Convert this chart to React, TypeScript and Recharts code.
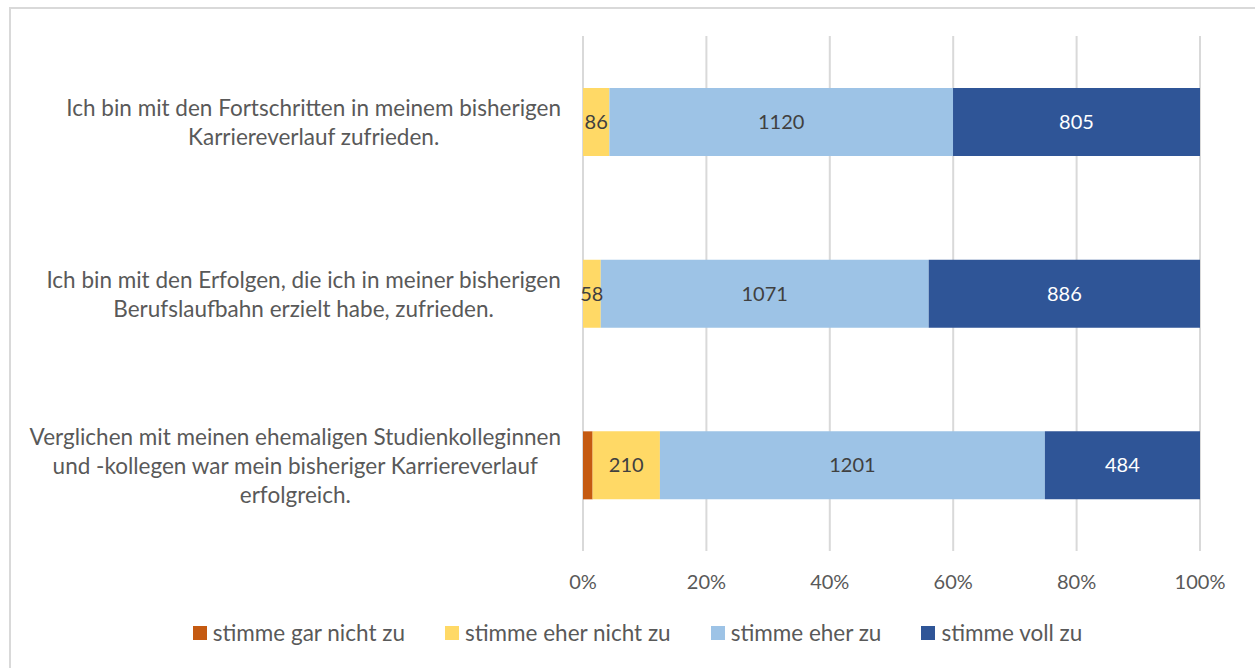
import React from 'react';
import { BarChart, Bar, XAxis, YAxis, CartesianGrid, LabelList } from 'recharts';

const categories = [
  'Ich bin mit den Fortschritten in meinem bisherigen\nKarriereverlauf zufrieden.',
  'Ich bin mit den Erfolgen, die ich in meiner bisherigen\nBerufslaufbahn erzielt habe, zufrieden.',
  'Verglichen mit meinen ehemaligen Studienkolleginnen\nund -kollegen war mein bisheriger Karriereverlauf\nerfolgreich.',
];

const garNicht = [0, 0, 30];
const eherNicht = [86, 58, 210];
const eherZu = [1120, 1071, 1201];
const vollZu = [805, 886, 484];

const xTicks = [0, 0.2, 0.4, 0.6, 0.8, 1];

const series = [
  { key: 'garNicht', name: 'stimme gar nicht zu', color: '#C55A11', label: false, labelColor: '#404040' },
  { key: 'eherNicht', name: 'stimme eher nicht zu', color: '#FFD966', label: true, labelColor: '#404040' },
  { key: 'eherZu', name: 'stimme eher zu', color: '#9DC3E6', label: true, labelColor: '#404040' },
  { key: 'vollZu', name: 'stimme voll zu', color: '#2F5597', label: true, labelColor: '#ffffff' },
];

const data = categories.map((name, i) => ({
  name,
  garNicht: garNicht[i],
  eherNicht: eherNicht[i],
  eherZu: eherZu[i],
  vollZu: vollZu[i],
}));

const FONT = 'Lato, "Open Sans", sans-serif';
const FS = 20; // numbers
const FS_TEXT = 22.5; // category labels + legend
const TEXT = '#595959';

let canvas: HTMLCanvasElement | null = null;
const measure = (s: string) => {
  if (!canvas) canvas = document.createElement('canvas');
  const ctx = canvas.getContext('2d');
  if (!ctx) return s.length * FS_TEXT * 0.45;
  ctx.font = `${FS_TEXT}px Lato`;
  return ctx.measureText(s).width;
};

const CategoryTick = (props: any) => {
  const { x, y, payload } = props;
  const lines: string[] = String(payload.value).split('\n');
  const maxW = Math.max(...lines.map(measure));
  const cx = x - maxW / 2;
  const lh = 29;
  return (
    <g>
      {lines.map((l, i) => (
        <text
          key={i}
          x={cx}
          y={y + (i - (lines.length - 1) / 2) * lh}
          textAnchor="middle"
          dominantBaseline="central"
          fontFamily={FONT}
          fontSize={FS_TEXT}
          fill={TEXT}
        >
          {l}
        </text>
      ))}
    </g>
  );
};

export default function App() {
  return (
    <div style={{ position: 'fixed', left: 0, top: 0, width: 1255, height: 668, background: '#fff' }}>
      <div
        style={{
          position: 'absolute',
          left: 9,
          top: 7,
          width: 1252,
          height: 670,
          border: '2px solid #D9D9D9',
          boxSizing: 'border-box',
        }}
      />
      <BarChart
        width={1255}
        height={668}
        data={data}
        layout="vertical"
        stackOffset="expand"
        margin={{ top: 36, right: 55, left: 0, bottom: 87 }}
        barSize={68}
      >
        <CartesianGrid horizontal={false} stroke="#D9D9D9" strokeWidth={2} />
        <XAxis
          type="number"
          domain={[0, 1]}
          ticks={xTicks}
          tickFormatter={(v: number) => `${Math.round(v * 100)}%`}
          axisLine={false}
          tickLine={false}
          tickMargin={18}
          height={30}
          tick={{ fill: TEXT, fontSize: FS, fontFamily: FONT }}
        />
        <YAxis
          type="category"
          dataKey="name"
          width={583}
          axisLine={false}
          tickLine={false}
          tickMargin={16}
          tick={<CategoryTick />}
        />
        {series.map((s) => (
          <Bar key={s.key} dataKey={s.key} name={s.name} stackId="a" fill={s.color} isAnimationActive={false}>
            {s.label && (
              <LabelList
                dataKey={s.key}
                position="center"
                fill={s.labelColor}
                fontSize={FS}
                fontFamily={FONT}
                formatter={(v: any) => (v ? v : '')}
              />
            )}
          </Bar>
        ))}
      </BarChart>
      <div
        style={{
          position: 'absolute',
          left: 0,
          width: 1255,
          top: 619,
          display: 'flex',
          justifyContent: 'center',
          paddingLeft: 20,
          boxSizing: 'border-box',
          gap: 40,
          fontFamily: FONT,
          fontSize: FS_TEXT,
          color: TEXT,
        }}
      >
        {series.map((s) => (
          <div key={s.key} style={{ display: 'flex', alignItems: 'center', gap: 6 }}>
            <span style={{ display: 'inline-block', width: 14, height: 14, background: s.color }} />
            <span>{s.name}</span>
          </div>
        ))}
      </div>
    </div>
  );
}
